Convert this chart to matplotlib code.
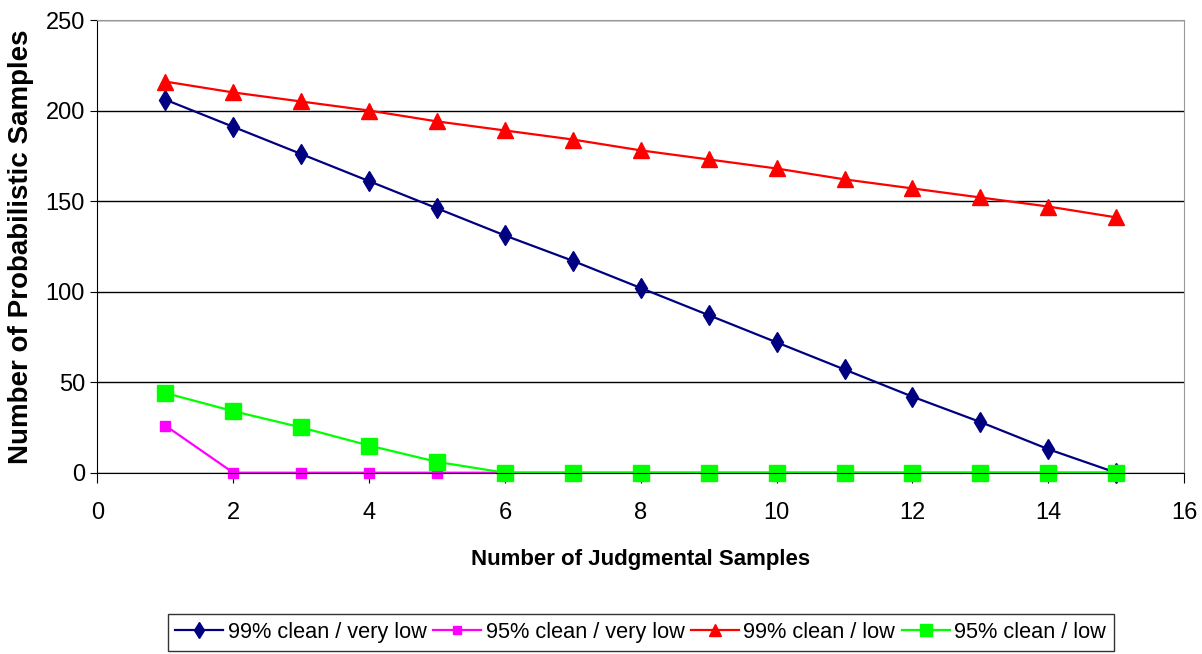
import matplotlib.pyplot as plt

plt.rcParams['font.family'] = ['Liberation Sans', 'DejaVu Sans']

# data
judgmental = list(range(1, 16))
clean99_very_low = [206, 191, 176, 161, 146, 131, 117, 102, 87, 72, 57, 42, 28, 13, 0]
clean95_very_low = [26, 0, 0, 0, 0, 0, 0, 0, 0, 0, 0, 0, 0, 0, 0]
clean99_low = [216, 210, 205, 200, 194, 189, 184, 178, 173, 168, 162, 157, 152, 147, 141]
clean95_low = [44, 34, 25, 15, 6, 0, 0, 0, 0, 0, 0, 0, 0, 0, 0]

labels = ["99% clean / very low", "95% clean / very low",
          "99% clean / low", "95% clean / low"]

fig = plt.figure(figsize=(12.02, 6.54), dpi=100)
ax = fig.add_axes([0.0811, 0.2772, 0.9040, 0.6922])

ax.plot(judgmental, clean99_very_low, color="#000080", lw=1.6,
        marker="d", markersize=10.5, label=labels[0], clip_on=False)
ax.plot(judgmental, clean95_very_low, color="#FF00FF", lw=1.6,
        marker="s", markersize=7.5, label=labels[1], clip_on=False)
ax.plot(judgmental, clean99_low, color="#FF0000", lw=1.6,
        marker="^", markersize=11, label=labels[2], clip_on=False)
ax.plot(judgmental, clean95_low, color="#00FF00", lw=1.6,
        marker="s", markersize=11.5, label=labels[3], clip_on=False)

ax.set_xlim(0, 16)
ax.set_ylim(0, 250)
ax.set_xticks(range(0, 17, 2))
ax.set_yticks(range(0, 251, 50))
ax.yaxis.grid(True, color="black", lw=1)
ax.set_axisbelow(True)

for side in ("top", "right"):
    ax.spines[side].set_color("#999999")
ax.spines["left"].set_color("black")
ax.spines["bottom"].set_color("black")
ax.tick_params(direction="out", labelsize=17)
ax.tick_params(axis="x", length=7, pad=14)
ax.tick_params(axis="y", length=5, pad=4)

ax.set_xlabel("Number of Judgmental Samples", fontsize=16, fontweight="bold",
              labelpad=18)
ax.set_ylabel("Number of Probabilistic Samples", fontsize=20, fontweight="bold",
              labelpad=8)

leg = fig.legend(loc="center", bbox_to_anchor=(0.533, 0.033), ncol=4,
                 fontsize=15.7, frameon=True, fancybox=False, edgecolor="black",
                 handlelength=2.2, handletextpad=0.2, columnspacing=0.3,
                 borderpad=0.35, markerscale=0.8)
leg.get_frame().set_linewidth(1)

fig.savefig("out.png", dpi=100)
